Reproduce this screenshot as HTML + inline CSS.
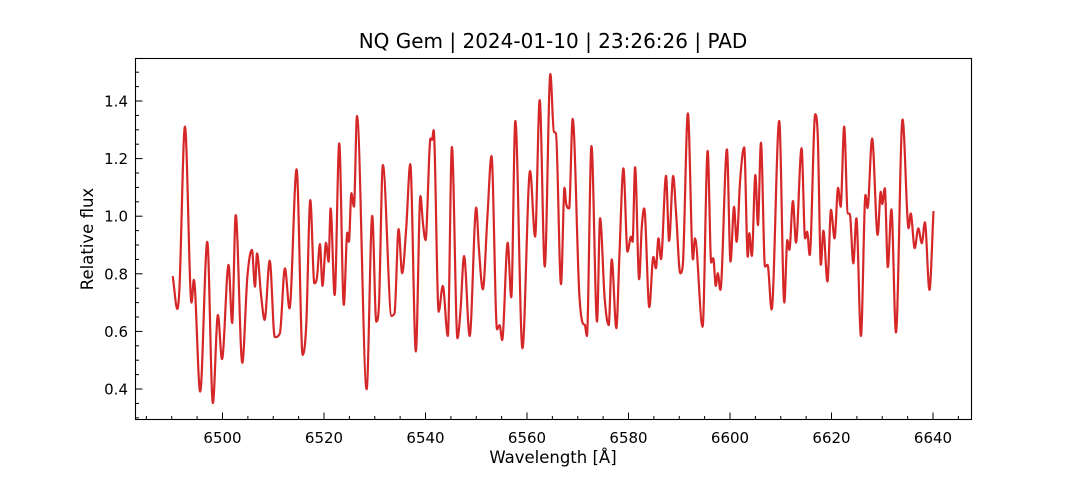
<!DOCTYPE html>
<html><head><meta charset="utf-8"><style>
body{margin:0;background:#fff;}
svg text{font-family:"DejaVu Sans","Liberation Sans",sans-serif;fill:#000;}
</style></head><body>
<svg id="chart" width="1080" height="480" xmlns="http://www.w3.org/2000/svg">
<rect width="1080" height="480" fill="#fff"/>
<text x="553" y="48" font-size="20" text-anchor="middle">NQ Gem | 2024-01-10 | 23:26:26 | PAD</text>
<text x="553" y="463" font-size="16.5" text-anchor="middle">Wavelength [Å]</text>
<text transform="translate(93,239) rotate(-90)" font-size="16.5" text-anchor="middle">Relative flux</text>
<g id="ticks"></g>
<path id="line" fill="none" stroke="#d62728" stroke-width="2.2" stroke-linejoin="round"/>
<rect x="135.5" y="58.5" width="836" height="361" fill="none" stroke="#000" stroke-width="1.1"/>
</svg>
<script>
const wavelengths=[6490.2,6491.1,6491.5,6492.6,6493.9,6494.35,6495.6,6497.0,6498.1,6499.1,6499.9,6501.2,6501.9,6502.6,6503.9,6504.9,6505.8,6506.4,6506.8,6507.6,6508.3,6509.3,6510.3,6511.3,6512.3,6513.2,6514.6,6515.8,6516.5,6517.3,6518.1,6518.6,6519.2,6519.7,6520.4,6520.9,6521.3,6522.1,6523.0,6523.9,6524.6,6524.9,6525.4,6525.9,6526.5,6528.4,6529.5,6530.3,6530.8,6531.6,6533.3,6533.9,6534.7,6535.4,6536.2,6537.0,6538.1,6539.0,6539.5,6540.0,6541.0,6541.3,6541.6,6542.6,6543.4,6544.4,6545.2,6546.3,6546.9,6547.6,6548.7,6550.0,6550.5,6551.3,6552.2,6553.0,6554.1,6554.6,6555.1,6556.2,6556.9,6557.7,6559.1,6560.6,6561.6,6562.5,6563.5,6564.6,6565.3,6565.7,6566.7,6567.4,6567.7,6568.3,6569.0,6570.3,6571.0,6571.4,6571.8,6572.7,6573.8,6574.4,6575.3,6576.1,6576.7,6577.6,6578.2,6579.0,6579.8,6580.5,6580.8,6581.3,6582.1,6582.6,6583.1,6584.1,6584.9,6585.4,6585.9,6586.4,6587.4,6588.0,6588.8,6589.4,6590.2,6590.7,6591.7,6592.7,6593.1,6594.6,6595.6,6596.3,6596.7,6597.2,6597.6,6598.1,6599.4,6600.1,6600.8,6601.3,6602.0,6602.8,6603.5,6603.8,6604.3,6605.0,6605.5,6606.1,6606.9,6607.4,6608.2,6609.7,6610.7,6611.3,6611.7,6612.4,6613.0,6614.1,6614.8,6615.2,6615.7,6616.8,6617.3,6617.9,6618.4,6619.2,6619.9,6620.6,6621.3,6621.8,6622.5,6623.2,6623.6,6624.3,6624.9,6625.8,6626.7,6627.1,6628.0,6629.1,6629.7,6630.0,6630.5,6631.1,6631.8,6632.7,6634.0,6635.2,6635.6,6636.4,6637.1,6637.8,6638.4,6639.3,6640.1];
const fluxes=[0.792,0.678,0.744,1.311,0.700,0.779,0.391,0.911,0.351,0.657,0.504,0.831,0.629,1.004,0.491,0.790,0.883,0.755,0.871,0.726,0.640,0.846,0.580,0.593,0.819,0.680,1.163,0.518,0.622,1.056,0.767,0.785,0.903,0.758,0.908,0.842,1.027,0.726,1.253,0.692,0.943,0.911,1.080,1.033,1.348,0.399,1.001,0.634,0.681,1.178,0.654,0.663,0.955,0.802,0.958,1.181,0.530,1.070,0.975,0.917,1.270,1.265,1.299,0.668,0.758,0.584,1.241,0.576,0.674,0.862,0.584,1.030,0.894,0.746,0.998,1.209,0.607,0.622,0.570,0.908,0.718,1.331,0.541,1.157,0.929,1.403,0.825,1.494,1.293,1.288,0.764,1.099,1.045,1.027,1.338,0.732,0.628,0.622,0.584,1.244,0.634,0.993,0.715,0.622,0.850,0.611,0.859,1.166,0.877,0.929,0.911,1.170,0.781,0.958,1.027,0.684,0.859,0.819,0.923,0.851,1.140,0.914,1.140,1.004,0.802,0.831,1.357,0.850,0.923,0.616,1.227,0.839,0.854,0.758,0.802,0.744,1.232,0.842,1.033,0.911,1.126,1.239,0.859,0.941,0.862,1.143,0.969,1.255,0.825,0.831,0.676,1.331,0.700,0.917,0.883,1.053,0.908,1.236,0.923,0.946,0.865,1.354,1.276,0.831,0.950,0.773,1.022,0.923,1.099,1.033,1.311,1.010,1.008,0.836,0.993,0.584,1.074,1.028,1.270,0.935,1.085,1.042,1.097,0.823,1.024,0.596,1.336,0.958,1.010,0.889,0.958,0.906,0.979,0.744,1.018];
const xTicks=[6500,6520,6540,6560,6580,6600,6620,6640];
const yTicks=[0.4,0.6,0.8,1.0,1.2,1.4];

const L=135.5,R=971.5,T=58.5,B=419.5;
function sx(w){return 222.5+(w-6500)*(933-222.5)/140;}
function sy(f){return 101+(1.4-f)*288;}
const NS='http://www.w3.org/2000/svg';
const g=document.getElementById('ticks');
function ln(x1,y1,x2,y2,name){
  const l=document.createElementNS(NS,'line');
  l.setAttribute('x1',x1);l.setAttribute('y1',y1);l.setAttribute('x2',x2);l.setAttribute('y2',y2);
  l.setAttribute('stroke','#000');l.setAttribute('stroke-width','1');
  
  
  g.appendChild(l);
}
function tx(x,y,s,anchor,name){
  const t=document.createElementNS(NS,'text');
  t.setAttribute('x',x);t.setAttribute('y',y);t.setAttribute('font-size','15');t.setAttribute('text-anchor',anchor);
  t.textContent=s;
  
  
  g.appendChild(t);
}
for(let w=6485;w<=6645;w+=5){const x=sx(w);if(x<L||x>R)continue;const major=xTicks.includes(w);ln(x,B,x,B-(major?7:3.5),'x-tick');}
xTicks.forEach(w=>tx(sx(w),443,String(w),'middle','x-tick-label'));
for(let k=6;k<=30;k++){const f=k*0.05;const y=sy(f);if(y<T||y>B)continue;const major=(k%4===0);ln(L,y,L+(major?7:3.5),y,'y-tick');}
yTicks.forEach(f=>tx(128,sy(f)+5.5,f.toFixed(1),'end','y-tick-label'));

const px=wavelengths.map(sx),py=fluxes.map(sy);
const n=px.length,d=[],m=[];
for(let i=0;i<n-1;i++)d.push((py[i+1]-py[i])/(px[i+1]-px[i]));
for(let i=0;i<n;i++){
  if(i===0)m.push(d[0]);else if(i===n-1)m.push(d[n-2]);
  else m.push(d[i-1]*d[i]<=0?0:(d[i-1]+d[i])/2);
}
for(let i=0;i<n-1;i++){
  if(d[i]===0){m[i]=0;m[i+1]=0;continue;}
  const a=m[i]/d[i],b=m[i+1]/d[i],s=a*a+b*b;
  if(s>9){const t=3/Math.sqrt(s);m[i]=t*a*d[i];m[i+1]=t*b*d[i];}
}
let p='M'+px[0].toFixed(2)+','+py[0].toFixed(2);
for(let i=0;i<n-1;i++){
  const h=(px[i+1]-px[i])/3;
  p+=' C'+(px[i]+h).toFixed(2)+','+(py[i]+m[i]*h).toFixed(2)+' '+(px[i+1]-h).toFixed(2)+','+(py[i+1]-m[i+1]*h).toFixed(2)+' '+px[i+1].toFixed(2)+','+py[i+1].toFixed(2);
}
document.getElementById('line').setAttribute('d',p);
</script>
</body></html>
